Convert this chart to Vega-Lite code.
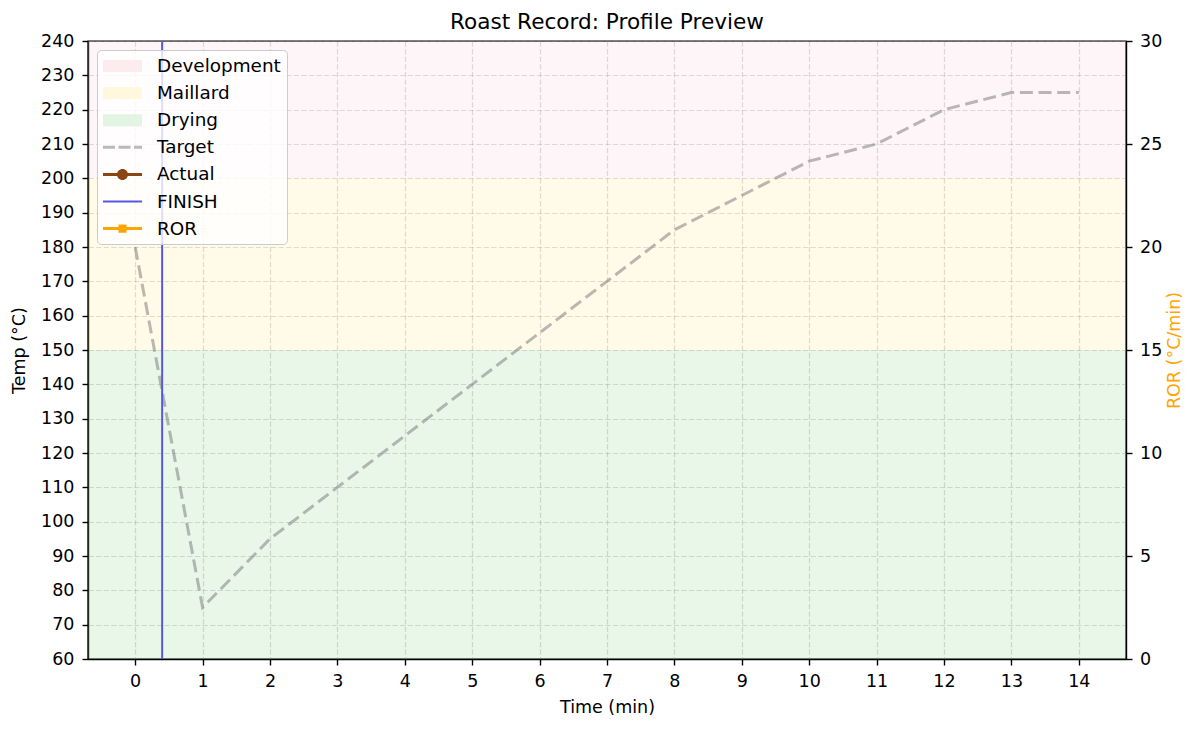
{
  "$schema": "https://vega.github.io/schema/vega-lite/v6.json",
  "width": 1038,
  "height": 618,
  "autosize": {"type": "none"},
  "padding": {"left": 88, "top": 41, "right": 74, "bottom": 70},
  "title": {"text": "Roast Record: Profile Preview", "font": "DejaVu Sans", "fontSize": 21.6, "fontWeight": "normal", "color": "black", "offset": -2},
  "layer": [
    {
      "layer": [
        {
          "data": {"values": [
            {"phase": "Drying", "lo": 60, "hi": 150},
            {"phase": "Maillard", "lo": 150, "hi": 200},
            {"phase": "Development", "lo": 200, "hi": 240}
          ]},
          "mark": {"type": "rect", "opacity": 0.2},
          "encoding": {
            "y": {"field": "lo", "type": "quantitative", "scale": {"domain": [60, 240], "nice": false, "zero": false},
              "axis": {"title": "Temp (°C)", "orient": "left", "values": [60,70,80,90,100,110,120,130,140,150,160,170,180,190,200,210,220,230,240], "grid": true, "labelPadding": 8, "titlePadding": 12}},
            "y2": {"field": "hi"},
            "fill": {"field": "phase", "type": "nominal", "legend": null,
              "scale": {"domain": ["Development", "Maillard", "Drying"], "range": ["#F5CDD7", "#FFEB8C", "#91D791"]}}
          }
        },
        {
          "data": {"values": [
            {"t": 0, "temp": 180},
            {"t": 1, "temp": 75},
            {"t": 2, "temp": 95},
            {"t": 3, "temp": 110},
            {"t": 4, "temp": 125},
            {"t": 5, "temp": 140},
            {"t": 6, "temp": 155},
            {"t": 7, "temp": 170},
            {"t": 8, "temp": 185},
            {"t": 9, "temp": 195},
            {"t": 10, "temp": 205},
            {"t": 11, "temp": 210},
            {"t": 12, "temp": 220},
            {"t": 13, "temp": 225},
            {"t": 14, "temp": 225}
          ]},
          "mark": {"type": "line", "strokeWidth": 3, "strokeDash": [13, 5.7], "color": "#808080", "opacity": 0.55},
          "encoding": {
            "x": {"field": "t", "type": "quantitative", "scale": {"domain": [-0.7, 14.7], "nice": false, "zero": false},
              "axis": {"title": "Time (min)", "values": [0,1,2,3,4,5,6,7,8,9,10,11,12,13,14], "grid": true, "labelPadding": 7.5, "titlePadding": 8}},
            "y": {"field": "temp", "type": "quantitative", "scale": {"domain": [60, 240], "nice": false, "zero": false},
              "axis": {"title": "Temp (°C)", "orient": "left", "values": [60,70,80,90,100,110,120,130,140,150,160,170,180,190,200,210,220,230,240], "grid": true, "labelPadding": 8, "titlePadding": 12}}
          }
        },
        {
          "data": {"values": [{"event": "FINISH", "t": 0.4}]},
          "mark": {"type": "rule", "strokeWidth": 2, "color": "#5656e8"},
          "encoding": {
            "x": {"field": "t", "type": "quantitative", "scale": {"domain": [-0.7, 14.7], "nice": false, "zero": false},
              "axis": {"title": "Time (min)", "values": [0,1,2,3,4,5,6,7,8,9,10,11,12,13,14], "grid": true, "labelPadding": 7.5, "titlePadding": 8}}
          }
        },
        {
          "data": {"values": [
            {"series": "Development"}, {"series": "Maillard"}, {"series": "Drying"},
            {"series": "Target"}, {"series": "Actual"}, {"series": "FINISH"}, {"series": "ROR"}
          ]},
          "mark": {"type": "point", "filled": true, "opacity": 0},
          "encoding": {
            "color": {"field": "series", "type": "nominal",
              "scale": {"domain": ["Development", "Maillard", "Drying", "Target", "Actual", "FINISH", "ROR"],
                        "range": ["#fcecef", "#fff8dc", "#e2f4e2", "#b9b9b9", "#8B4513", "#5656e8", "#FFA500"]},
              "legend": {
                "title": null, "orient": "top-left", "offset": 9, "padding": 6, "rowPadding": 7.1,
                "symbolSize": 400, "labelOffset": 34, "symbolOpacity": 1, "symbolStrokeWidth": 0,
                "labelFont": "DejaVu Sans", "labelFontSize": 18.4, "labelColor": "black",
                "fillColor": "rgba(255,255,255,0.8)", "strokeColor": "#cccccc", "cornerRadius": 4
              }},
            "shape": {"field": "series", "type": "nominal",
              "scale": {"domain": ["Development", "Maillard", "Drying", "Target", "Actual", "FINISH", "ROR"],
                        "range": [
                          "M-1,-0.6H2.9V0.6H-1Z",
                          "M-1,-0.6H2.9V0.6H-1Z",
                          "M-1,-0.6H2.9V0.6H-1Z",
                          "M-1,-0.15H0.2V0.15H-1Z M0.55,-0.15H1.75V0.15H0.55Z M2.1,-0.15H2.9V0.15H2.1Z",
                          "M-1,-0.15H2.9V0.15H-1Z M1.5,0A0.55,0.55 0 1,1 0.4,0A0.55,0.55 0 1,1 1.5,0Z",
                          "M-1,-0.1H2.9V0.1H-1Z",
                          "M-1,-0.15H2.9V0.15H-1Z M0.55,-0.42H1.35V0.42H0.55Z"
                        ]},
              "legend": {
                "title": null, "orient": "top-left", "offset": 9, "padding": 6, "rowPadding": 7.1,
                "symbolSize": 400, "labelOffset": 34, "symbolOpacity": 1, "symbolStrokeWidth": 0,
                "labelFont": "DejaVu Sans", "labelFontSize": 18.4, "labelColor": "black",
                "fillColor": "rgba(255,255,255,0.8)", "strokeColor": "#cccccc", "cornerRadius": 4
              }}
          }
        }
      ]
    },
    {
      "data": {"values": []},
      "mark": {"type": "line", "color": "#FFA500"},
      "encoding": {
        "x": {"field": "t", "type": "quantitative", "scale": {"domain": [-0.7, 14.7], "nice": false, "zero": false},
          "axis": {"title": "Time (min)", "values": [0,1,2,3,4,5,6,7,8,9,10,11,12,13,14], "grid": true, "labelPadding": 7.5, "titlePadding": 8}},
        "y": {"field": "ror", "type": "quantitative", "scale": {"domain": [0, 30], "nice": false, "zero": false},
          "axis": {"title": "ROR (°C/min)", "orient": "right", "values": [0,5,10,15,20,25,30], "grid": false, "labelPadding": 7.5, "titlePadding": 4, "titleColor": "#FFA500", "titleAngle": 270, "titleBaseline": "top"}}
      }
    }
  ],
  "resolve": {"scale": {"y": "independent"}},
  "config": {
    "font": "DejaVu Sans",
    "background": "white",
    "view": {"stroke": "black", "strokeWidth": 1.4},
    "axis": {
      "labelFont": "DejaVu Sans", "labelFontSize": 17.5, "labelColor": "black",
      "titleFont": "DejaVu Sans", "titleFontSize": 17.5, "titleFontWeight": "normal", "titleColor": "black",
      "domainColor": "black", "domainWidth": 1.4, "tickColor": "black", "tickWidth": 1.4, "tickSize": 6,
      "gridColor": "#808080", "gridOpacity": 0.3, "gridWidth": 1.2, "gridDash": [5.3, 2.3],
      "labelOverlap": false, "labelFlush": false
    }
  }
}
